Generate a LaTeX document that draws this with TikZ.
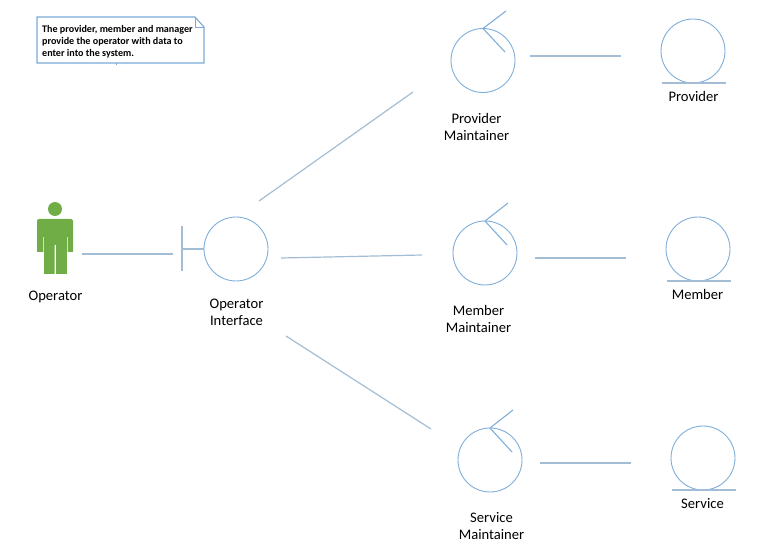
\documentclass[tikz,border=0pt]{standalone}
\usepackage{fontspec}
\setmainfont{Carlito}
\definecolor{cblue}{HTML}{7FAEDB}
\definecolor{lblue}{HTML}{A3BDD4}
\definecolor{pgreen}{HTML}{70AD47}
\definecolor{nblue}{HTML}{7AAAD8}
\tikzset{
  ctrl/.style={circle,draw=cblue,line width=0.9pt,minimum size=64pt,inner sep=0pt,outer sep=0pt},
  conn/.style={draw=lblue,line width=1.2pt},
  part/.style={draw=lblue,line width=1.1pt},
  lab/.style={font=\fontsize{14.6}{17}\selectfont,align=center,text=black,inner sep=0pt},
  notetext/.style={font=\fontsize{10.1}{12}\bfseries\selectfont,align=left,anchor=north west,inner sep=0pt,text=black}
}
\begin{document}
\begin{tikzpicture}[x=1pt,y=-1pt]
\useasboundingbox (0,0) rectangle (758,553);
% note
\draw[draw=nblue,line width=1.1pt,fill=white] (37,17) -- (195,17) -- (204,27) -- (204,63) -- (37,63) -- cycle;
\draw[draw=nblue,line width=0.8pt] (195,17) -- (195,27) -- (204,27);
\draw[draw=nblue,line width=0.8pt] (116,63) -- (116,65);
\node[notetext] (note) at (42,25) {The provider, member and manager\\provide the operator with data to\\enter into the system.};
% actor
\fill[pgreen] (37,221) arc[start angle=180,end angle=270,radius=2] -- (71,219) arc[start angle=270,end angle=360,radius=2]
  -- (73,252) -- (67.7,252) -- (67.7,237) -- (66.8,237) -- (66.8,274) -- (56,274) -- (56,245) -- (54.6,245) -- (54.6,274) -- (44.2,274) -- (44.2,237) -- (43.3,237) -- (43.3,252) -- (37,252) -- cycle;
\node[circle,fill=pgreen,minimum size=14pt,inner sep=0pt] (head) at (55,209) {};
\coordinate (actor) at (55,246);
\node[lab] (operator) at (55.5,296.5) {Operator};
% boundary
\node[ctrl] (iface) at (236,249) {};
\coordinate (bar) at (182,249);
\draw[part] (182,226) -- (182,271);
\draw[part] (bar) -- (iface.west);
\node[lab] (ifacel) at (236.5,312) {Operator\\Interface};
% controls
\node[ctrl] (pm) at (483,60.5) {};
\coordinate (pma) at (506,11); \coordinate (pmb) at (505,52);
\draw[part,draw=cblue] (pm.north) -- (pma);
\draw[part,draw=cblue] (pm.north) -- (pmb);
\node[lab] (pml) at (476.5,126.5) {Provider\\Maintainer};
\node[ctrl] (mm) at (485,253) {};
\coordinate (mma) at (508,203); \coordinate (mmb) at (507,245);
\draw[part,draw=cblue] (mm.north) -- (mma);
\draw[part,draw=cblue] (mm.north) -- (mmb);
\node[lab] (mml) at (478.5,319) {Member\\Maintainer};
\node[ctrl] (sm) at (490,460) {};
\coordinate (sma) at (513,410); \coordinate (smb) at (512,452);
\draw[part,draw=cblue] (sm.north) -- (sma);
\draw[part,draw=cblue] (sm.north) -- (smb);
\node[lab] (sml) at (491.5,526) {Service\\Maintainer};
% entities
\node[ctrl] (pe) at (693,51) {};
\draw[part] (662,83) -- (726,83);
\node[lab] (pel) at (693.5,96.5) {Provider};
\node[ctrl] (me) at (698,249) {};
\draw[part] (667,281) -- (731,281);
\node[lab] (mel) at (697.5,294.5) {Member};
\node[ctrl] (se) at (703,458) {};
\draw[part] (672,490) -- (736,490);
\node[lab] (sel) at (702.5,503.5) {Service};
% connector ends
\coordinate (a1) at (82,254);   \coordinate (a2) at (173,254);
\coordinate (b1) at (259,201);  \coordinate (b2) at (413,92);
\coordinate (c1) at (281,258);  \coordinate (c2) at (422,255);
\coordinate (d1) at (286,336);  \coordinate (d2) at (431,429);
\coordinate (e1) at (530,56);   \coordinate (e2) at (621,56);
\coordinate (f1) at (535,258);  \coordinate (f2) at (626,258);
\coordinate (g1) at (540,463);  \coordinate (g2) at (631,463);
\draw[conn] (a1) -- (a2);
\draw[conn] (b1) -- (b2);
\draw[conn] (c1) -- (c2);
\draw[conn] (d1) -- (d2);
\draw[conn] (e1) -- (e2);
\draw[conn] (f1) -- (f2);
\draw[conn] (g1) -- (g2);
\end{tikzpicture}
\end{document}
